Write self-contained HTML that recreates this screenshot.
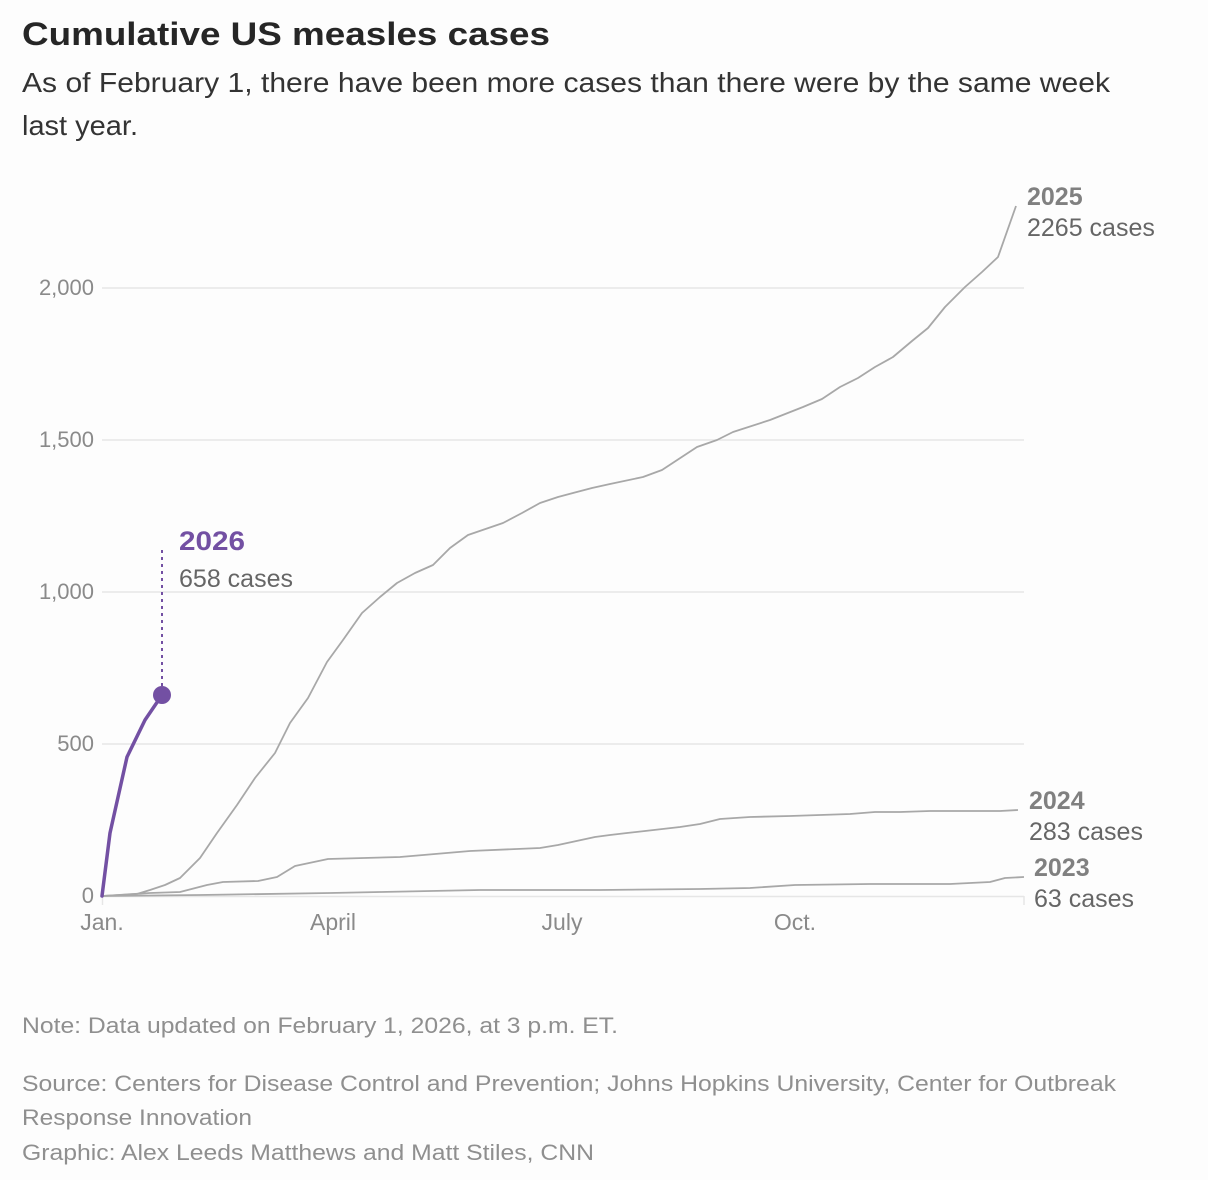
<!DOCTYPE html>
<html><head><meta charset="utf-8"><style>
html,body{margin:0;padding:0;background:#fdfdfd;}
svg{display:block;font-family:"Liberation Sans",Arial,sans-serif;}
</style></head><body>
<svg width="1208" height="1180" viewBox="0 0 1208 1180" xmlns="http://www.w3.org/2000/svg">
<rect width="1208" height="1180" fill="#fdfdfd"/>
<text x="22" y="45" font-size="32" font-weight="bold" fill="#262626" textLength="528" lengthAdjust="spacingAndGlyphs">Cumulative US measles cases</text>
<text x="22" y="92" font-size="28" fill="#333" textLength="1088" lengthAdjust="spacingAndGlyphs">As of February 1, there have been more cases than there were by the same week</text>
<text x="22" y="135" font-size="28" fill="#333" textLength="116" lengthAdjust="spacingAndGlyphs">last year.</text>

<g stroke="#e6e6e6" stroke-width="1.5">
<line x1="102" y1="288" x2="1024" y2="288"/>
<line x1="102" y1="440" x2="1024" y2="440"/>
<line x1="102" y1="592" x2="1024" y2="592"/>
<line x1="102" y1="744" x2="1024" y2="744"/>
<line x1="102" y1="896.5" x2="1024" y2="896.5"/>
<line x1="102.5" y1="896" x2="102.5" y2="905"/>
<line x1="1024" y1="896" x2="1024" y2="905"/>
</g>
<g font-size="22" fill="#8a8a8a" text-anchor="end">
<text x="94" y="295">2,000</text>
<text x="94" y="447">1,500</text>
<text x="94" y="599">1,000</text>
<text x="94" y="751">500</text>
<text x="94" y="903">0</text>
</g>
<g font-size="23" fill="#8a8a8a" text-anchor="middle">
<text x="102" y="930">Jan.</text>
<text x="333" y="930">April</text>
<text x="562" y="930">July</text>
<text x="795" y="930">Oct.</text>
</g>

<g fill="none" stroke="#a8a8a8" stroke-width="1.8" stroke-linejoin="round">
<polyline points="102,896 200,895 330,893 380,892 480,890 600,890 700,889 750,888 795,885 870,884 950,884 990,882 1005,878 1024,877"/>
<polyline points="102,896 150,893 180,892 207,885 223,882 258,881 277,877 295,866 328,859 400,857 470,851 540,848 558,845 595,837 610,835 627,833 645,831 680,827 700,824 720,819 750,817 790,816 820,815 850,814 875,812 900,812 930,811 1000,811 1018,810"/>
<polyline points="102,896 120,895 137,894 150,890 165,885 180,878 200,858 217,833 237,805 255,778 275,753 290,723 308,698 327,662 343,640 362,613 380,597 397,583 415,573 433,565 450,548 468,535 503,523 522,513 540,503 558,497 573,493 592,488 610,484 643,477 662,470 697,447 717,440 733,432 770,420 803,407 822,399 840,387 858,378 875,367 893,357 912,341 928,328 945,307 965,287 982,272 998,257 1016,206"/>
</g>
<g font-size="25" fill="#808080">
<text x="1027" y="205" font-weight="bold">2025</text>
<text x="1027" y="236" fill="#666">2265 cases</text>
<text x="1029" y="809" font-weight="bold">2024</text>
<text x="1029" y="840" fill="#666">283 cases</text>
<text x="1034" y="876" font-weight="bold">2023</text>
<text x="1034" y="907" fill="#666">63 cases</text>
</g>

<line x1="162" y1="550" x2="162" y2="690" stroke="#7350a3" stroke-width="2" stroke-dasharray="3,4"/>
<polyline points="102,896 110,833 127,757 145,720 162,695" fill="none" stroke="#7350a3" stroke-width="3.5" stroke-linejoin="round" stroke-linecap="round"/>
<circle cx="162" cy="695" r="9" fill="#7350a3"/>
<text x="179" y="550" font-size="27" font-weight="bold" fill="#7350a3" textLength="66" lengthAdjust="spacingAndGlyphs">2026</text>
<text x="179" y="587" font-size="25" fill="#666" textLength="114" lengthAdjust="spacingAndGlyphs">658 cases</text>

<g font-size="22" fill="#8f8f8f">
<text x="22" y="1033" textLength="596" lengthAdjust="spacingAndGlyphs">Note: Data updated on February 1, 2026, at 3 p.m. ET.</text>
<text x="22" y="1091" textLength="1094" lengthAdjust="spacingAndGlyphs">Source: Centers for Disease Control and Prevention; Johns Hopkins University, Center for Outbreak</text>
<text x="22" y="1125" textLength="230" lengthAdjust="spacingAndGlyphs">Response Innovation</text>
<text x="22" y="1160" textLength="572" lengthAdjust="spacingAndGlyphs">Graphic: Alex Leeds Matthews and Matt Stiles, CNN</text>
</g>
</svg>
</body></html>
